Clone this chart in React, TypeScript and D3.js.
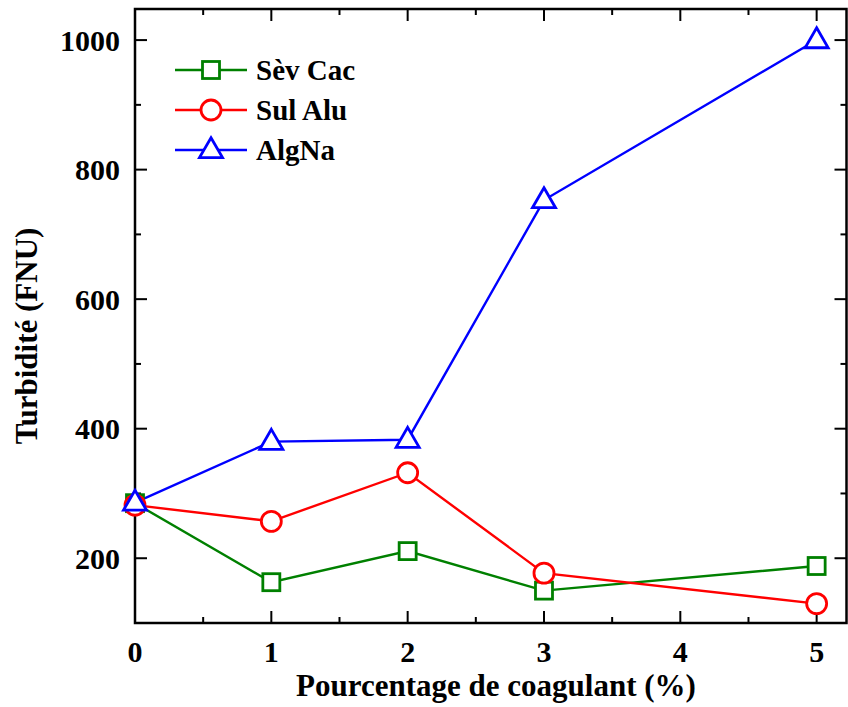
import { useEffect, useRef } from 'react';
import * as d3 from 'd3';

// x values (% coagulant)
const doses = [0, 1, 2, 3, 5];
const sevCac = [285, 163, 211, 150, 188];
const sulAlu = [282, 257, 332, 177, 130];
const algNa = [286, 380, 383, 753, 1000];

const xTicks = [0, 1, 2, 3, 4, 5];
const yTicks = [200, 400, 600, 800, 1000];

const seriesNames = ['Sèv Cac', 'Sul Alu', 'AlgNa'];
const seriesColors = ['#008000', '#ff0000', '#0000ff'];
const seriesShapes = ['square', 'circle', 'triangle'];

export default function App() {
  const svgRef = useRef<SVGSVGElement | null>(null);

  useEffect(() => {
    const width = 848;
    const height = 707;
    const marginLeft = 135;
    const marginRight = 0;
    const marginTop = 9;
    const marginBottom = 84;

    const svg = d3.select(svgRef.current);
    svg.selectAll('*').remove();

    const x = d3.scaleLinear().domain([0, 5.23]).range([marginLeft, width - marginRight]);
    const y = d3.scaleLinear().domain([100, 1048]).range([height - marginBottom, marginTop]);

    const font = '"Liberation Serif", "Times New Roman", serif';
    const x0 = marginLeft, x1 = width - marginRight - 1.5;
    const y0 = height - marginBottom, y1 = marginTop;

    const axes = svg.append('g');
    // frame
    axes.append('rect')
      .attr('x', x0).attr('y', y1)
      .attr('width', x1 - x0).attr('height', y0 - y1)
      .attr('fill', 'none').attr('stroke', '#000').attr('stroke-width', 2.5);

    // x ticks (major + minor), bottom and top, pointing inward
    const xMinor = d3.range(0.5, 5.2, 1);
    xTicks.forEach(t => {
      axes.append('line').attr('x1', x(t)).attr('x2', x(t)).attr('y1', y0).attr('y2', y0 - 12).attr('stroke', '#000').attr('stroke-width', 2);
      axes.append('line').attr('x1', x(t)).attr('x2', x(t)).attr('y1', y1).attr('y2', y1 + 12).attr('stroke', '#000').attr('stroke-width', 2);
      axes.append('text').attr('x', x(t)).attr('y', y0 + 39)
        .attr('text-anchor', 'middle').attr('font-family', font).attr('font-weight', 'bold').attr('font-size', 30)
        .text(t);
    });
    xMinor.forEach(t => {
      axes.append('line').attr('x1', x(t)).attr('x2', x(t)).attr('y1', y0).attr('y2', y0 - 6).attr('stroke', '#000').attr('stroke-width', 2);
      axes.append('line').attr('x1', x(t)).attr('x2', x(t)).attr('y1', y1).attr('y2', y1 + 6).attr('stroke', '#000').attr('stroke-width', 2);
    });

    // y ticks
    const yMinor = d3.range(100, 1050, 200).filter(v => v > 100);
    yTicks.forEach(t => {
      axes.append('line').attr('x1', x0).attr('x2', x0 + 12).attr('y1', y(t)).attr('y2', y(t)).attr('stroke', '#000').attr('stroke-width', 2);
      axes.append('line').attr('x1', x1).attr('x2', x1 - 12).attr('y1', y(t)).attr('y2', y(t)).attr('stroke', '#000').attr('stroke-width', 2);
      axes.append('text').attr('x', x0 - 15).attr('y', y(t) + 10.5)
        .attr('text-anchor', 'end').attr('font-family', font).attr('font-weight', 'bold').attr('font-size', 30)
        .text(t);
    });
    yMinor.forEach(t => {
      axes.append('line').attr('x1', x0).attr('x2', x0 + 6).attr('y1', y(t)).attr('y2', y(t)).attr('stroke', '#000').attr('stroke-width', 2);
      axes.append('line').attr('x1', x1).attr('x2', x1 - 6).attr('y1', y(t)).attr('y2', y(t)).attr('stroke', '#000').attr('stroke-width', 2);
    });

    // axis titles
    svg.append('text')
      .attr('x', 496).attr('y', 696)
      .attr('text-anchor', 'middle').attr('font-family', font).attr('font-weight', 'bold').attr('font-size', 31)
      .text('Pourcentage de coagulant (%)');
    svg.append('text')
      .attr('transform', `translate(37,${(y0 + y1) / 2 + 20}) rotate(-90)`)
      .attr('text-anchor', 'middle').attr('font-family', font).attr('font-weight', 'bold').attr('font-size', 31)
      .text('Turbidité (FNU)');

    const drawMarker = (g: any, shape: string, cx: number, cy: number, color: string) => {
      if (shape === 'square') {
        g.append('rect').attr('x', cx - 8.5).attr('y', cy - 8.5).attr('width', 17).attr('height', 17)
          .attr('fill', '#fff').attr('stroke', color).attr('stroke-width', 2.8);
      } else if (shape === 'circle') {
        g.append('circle').attr('cx', cx).attr('cy', cy).attr('r', 10)
          .attr('fill', '#fff').attr('stroke', color).attr('stroke-width', 2.8);
      } else {
        const s = d3.symbol().type(d3.symbolTriangle).size(230);
        g.append('path').attr('d', s()).attr('transform', `translate(${cx},${cy + 1})`)
          .attr('fill', '#fff').attr('stroke', color).attr('stroke-width', 2.8);
      }
    };

    const data = [sevCac, sulAlu, algNa];
    const line = d3.line<number>().x((_, i) => x(doses[i])).y(d => y(d));

    data.forEach((vals, k) => {
      svg.append('path').attr('d', line(vals)).attr('fill', 'none')
        .attr('stroke', seriesColors[k]).attr('stroke-width', 2.4);
    });
    data.forEach((vals, k) => {
      const g = svg.append('g');
      vals.forEach((v, i) => drawMarker(g, seriesShapes[k], x(doses[i]), y(v), seriesColors[k]));
    });

    // legend
    const legend = svg.append('g');
    seriesNames.forEach((name, k) => {
      const ly = 70 + k * 40;
      legend.append('line').attr('x1', 175).attr('x2', 247).attr('y1', ly).attr('y2', ly)
        .attr('stroke', seriesColors[k]).attr('stroke-width', 2.4);
      drawMarker(legend, seriesShapes[k], 211, ly, seriesColors[k]);
      legend.append('text').attr('x', 256).attr('y', ly + 10)
        .attr('font-family', font).attr('font-weight', 'bold').attr('font-size', 29)
        .text(name);
    });
  }, []);

  return (
    <svg ref={svgRef} width={848} height={707}
      style={{ position: 'absolute', left: 0, top: 0, background: '#fff' }} />
  );
}
